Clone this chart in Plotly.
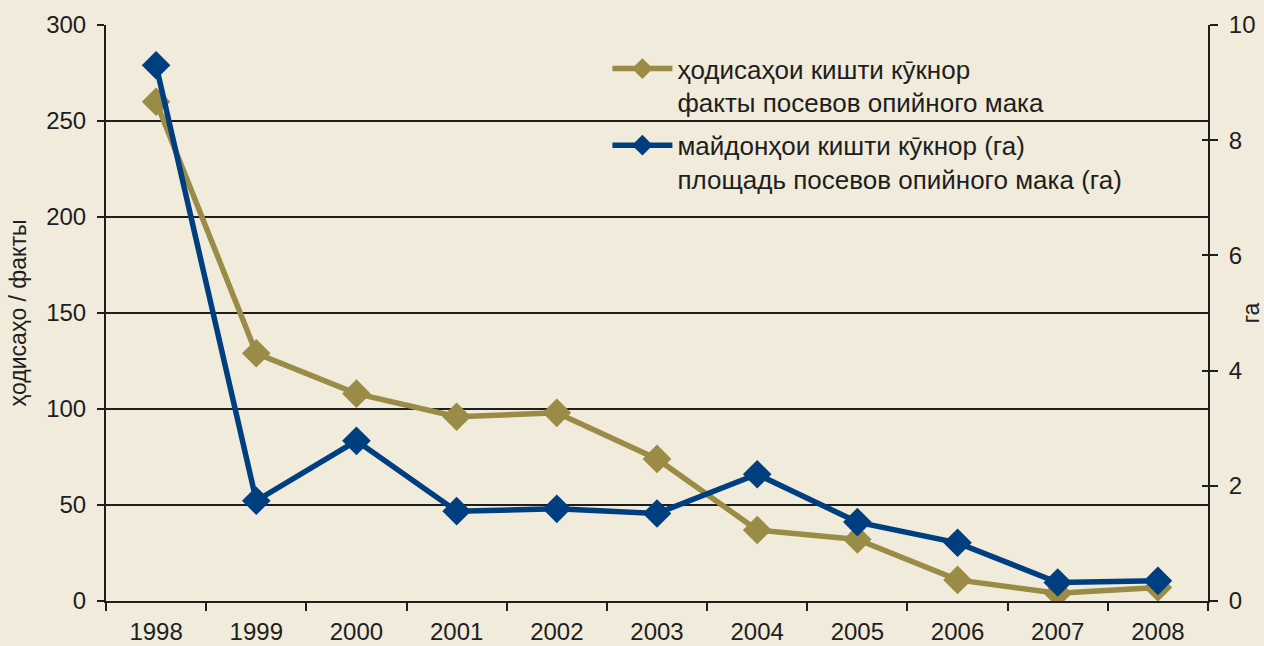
import plotly.graph_objects as go

years = ["1998", "1999", "2000", "2001", "2002", "2003", "2004", "2005", "2006", "2007", "2008"]
cases = [260, 129, 108, 96, 98, 74, 37, 32, 11, 4, 7]
area_ha = [9.3, 1.74, 2.78, 1.56, 1.6, 1.52, 2.2, 1.37, 1.01, 0.32, 0.35]

name_cases = "ҳодисаҳои кишти кӯкнор<br>факты посевов опийного мака"
name_area = "майдонҳои кишти кӯкнор (га)<br>площадь посевов опийного мака (га)"

BG = "#F0EBDA"
BROWN = "#9A8B47"
BLUE = "#003F7F"
INK = "#1E1E1E"
FONT = "Liberation Sans, Arial, sans-serif"

fig = go.Figure()
fig.add_trace(go.Scatter(
    x=years, y=cases, name=name_cases, mode="lines+markers",
    line=dict(color=BROWN, width=5.5),
    marker=dict(symbol="diamond", size=22, color=BROWN),
    yaxis="y", legendgroup="cases",
))
fig.add_trace(go.Scatter(
    x=years, y=area_ha, name=name_area, mode="lines+markers",
    line=dict(color=BLUE, width=5.5),
    marker=dict(symbol="diamond", size=22, color=BLUE),
    yaxis="y2", legendgroup="area",
))

fig.update_layout(
    width=1264, height=646,
    margin=dict(l=106, r=56, t=25, b=45, autoexpand=False),
    paper_bgcolor=BG, plot_bgcolor=BG,
    font=dict(family=FONT, size=24, color=INK),
    showlegend=True,
    legend=dict(
        x=0.455, y=0.965, xanchor="left", yanchor="top",
        bgcolor="rgba(0,0,0,0)", borderwidth=0,
        font=dict(size=26, color=INK),
        valign="top", tracegroupgap=6, itemwidth=60,
    ),
    xaxis=dict(
        type="category", showline=True, linecolor=INK, linewidth=2,
        ticks="outside", tickson="boundaries", ticklen=8, tickwidth=2, tickcolor=INK,
        ticklabelstandoff=8,
        showgrid=False, range=[-0.5, 10.5], automargin=False,
    ),
    yaxis=dict(
        range=[0, 300], dtick=50, showline=True, linecolor=INK, linewidth=2,
        ticks="outside", ticklen=7, tickwidth=2, tickcolor=INK, ticklabelstandoff=6,
        showgrid=True, gridcolor=INK, gridwidth=2, zeroline=False, automargin=False,
        title=dict(text="ҳодисаҳо / факты", font=dict(size=23), standoff=13),
    ),
    yaxis2=dict(
        range=[0, 10], dtick=2, overlaying="y", side="right",
        showline=True, linecolor=INK, linewidth=2,
        ticks="outside", ticklen=8, tickwidth=2, tickcolor=INK, ticklabelstandoff=6,
        showgrid=False, zeroline=False, automargin=False,
        title=dict(text="га", font=dict(size=23), standoff=10),
    ),
    yaxis3=dict(
        range=[0, 10], dtick=2, overlaying="y", side="right", anchor="x",
        ticks="inside", ticklen=6, tickwidth=2, tickcolor=INK,
        showticklabels=False, showgrid=False, zeroline=False, showline=False,
        automargin=False,
    ),
)

# hidden trace keeps the inner tick marks of the right axis
fig.add_trace(go.Scatter(x=[years[0]], y=[None], yaxis="y3", showlegend=False, hoverinfo="skip"))

fig.write_html("out.html")
